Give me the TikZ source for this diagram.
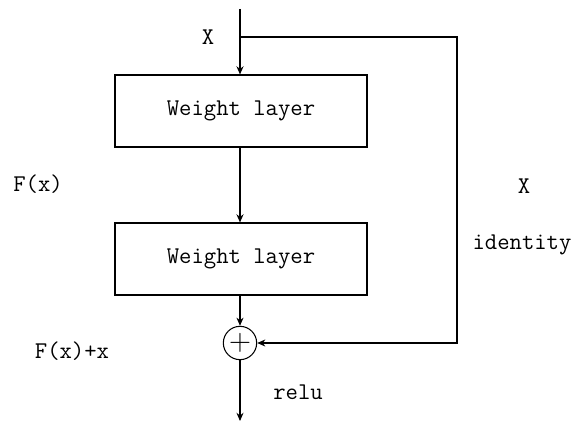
\documentclass[tikz,border=0pt]{standalone}
\usetikzlibrary{arrows.meta}

\begin{document}
\begin{tikzpicture}[
    x=0.03cm, y=-0.03cm,
    box/.style={draw, line width=0.9pt, minimum width=7.56cm, minimum height=2.16cm, align=center, font=\ttfamily\fontsize{20.5}{24}\selectfont},
    lbl/.style={font=\ttfamily\fontsize{20.5}{24}\selectfont, inner sep=0pt},
    sumnode/.style={draw, circle, line width=0.9pt, minimum size=1.0cm, inner sep=0pt, font=\fontsize{26}{26}\selectfont},
    arr/.style={-{Stealth[length=7pt,width=6pt]}, line width=0.9pt}
]
    \useasboundingbox (0,0) rectangle (574,423);

    \coordinate (in) at (240,9);
    \coordinate (split) at (240,37);
    \coordinate (corner1) at (457,37);
    \coordinate (corner2) at (457,343);
    \coordinate (out) at (240,421);

    \node[box] (layer1) at (241,111) {Weight layer};
    \node[box] (layer2) at (241,259) {Weight layer};
    \node[sumnode] (sum) at (240,343) {+};

    \node[lbl] (xin) at (208,37) {X};
    \node[lbl] (fx) at (38,184) {F(x)};
    \node[lbl] (fxx) at (72,351) {F(x)+x};
    \node[lbl] (relu) at (298,392) {relu};
    \node[lbl] (xskip) at (524,186) {X};
    \node[lbl] (ident) at (522,245) {identity};

    \draw[arr] (in) -- (in |- layer1.north);
    \draw[arr] (layer1.south -| in) -- (layer2.north -| in);
    \draw[arr] (layer2.south -| in) -- (sum);
    \draw[arr] (split) -- (corner1) -- (corner2) -- (sum);
    \draw[arr] (sum) -- (out);
\end{tikzpicture}
\end{document}
